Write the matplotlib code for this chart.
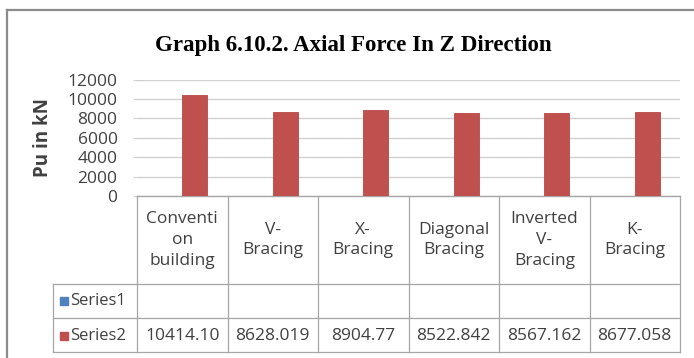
import numpy as np
import matplotlib
matplotlib.use('Agg')
from matplotlib import pyplot as plt
from matplotlib.lines import Line2D

categories = ['Conventi\non\nbuilding', 'V-\nBracing', 'X-\nBracing',
              'Diagonal\nBracing', 'Inverted\nV-\nBracing', 'K-\nBracing']
series1 = [np.nan] * 6
series2 = [10414.10, 8628.019, 8904.77, 8522.842, 8567.162, 8677.058]
series2_text = ['10414.10', '8628.019', '8904.77', '8522.842', '8567.162', '8677.058']
yticks = [0, 2000, 4000, 6000, 8000, 10000, 12000]

blue = '#4F81BD'
red = '#C0504D'
grid_c = '#d0d0d0'
table_c = '#a6a6a6'
text_c = '#404040'
sans = ['Open Sans', 'DejaVu Sans']

W, H = 694, 358
fig = plt.figure(figsize=(W / 100, H / 100), dpi=100)

# plot area in pixels: x 137..680, y 79.5..196
left, right, top, bottom = 137, 680, 79.5, 196
ax = fig.add_axes([left / W, 1 - bottom / H, (right - left) / W, (bottom - top) / H])

x = np.arange(len(categories))
bw = 0.277
ax.bar(x - bw / 2, series1, bw, color=blue)
ax.bar(x + bw / 2, series2, bw, color=red, edgecolor='#b84844', linewidth=0.6, zorder=3)

ax.set_xlim(-0.5, len(categories) - 0.5)
ax.set_ylim(0, 12000)
ax.set_yticks(yticks)
ax.set_yticklabels([str(v) for v in yticks], family=sans, fontsize=12.5, color=text_c)
ax.set_xticks([])
ax.tick_params(axis='y', length=3, color=grid_c, pad=11)
ax.yaxis.grid(True, color=grid_c, linewidth=1.0, zorder=0)
ax.set_axisbelow(True)
for s in ['top', 'right', 'left']:
    ax.spines[s].set_visible(False)
ax.spines['bottom'].set_color(table_c)

# data table under the axis
tr = ax.get_xaxis_transform()
ph = bottom - top
def yfrac(py):
    return (bottom - py) / ph
def xdata(px):
    return -0.5 + (px - left) / ((right - left) / len(categories))

row_y = [196, 284, 318, 352]
lab_left = xdata(53)
xr = len(categories) - 0.5
for i, py in enumerate(row_y):
    x0 = -0.5 if i == 0 else lab_left
    ax.add_line(Line2D([x0, xr], [yfrac(py)] * 2, transform=tr, color=table_c,
                       lw=0.9, clip_on=False))
for k in range(len(categories) + 1):
    ax.add_line(Line2D([k - 0.5] * 2, [yfrac(196), yfrac(352)], transform=tr,
                       color=table_c, lw=0.9, clip_on=False))
ax.add_line(Line2D([lab_left] * 2, [yfrac(284), yfrac(352)], transform=tr,
                   color=table_c, lw=0.9, clip_on=False))

for i, name in enumerate(categories):
    ax.text(i, yfrac(240), name, transform=tr, ha='center', va='center',
            family=sans, fontsize=12.5, color=text_c, linespacing=1.38, clip_on=False)
    ax.text(i, yfrac(336), series2_text[i], transform=tr, ha='center', va='center',
            family=sans, fontsize=12.5, color=text_c, clip_on=False)

for name, c, py in [('Series1', blue, 301), ('Series2', red, 336)]:
    ax.plot([xdata(64)], [yfrac(py)], marker='s', markersize=6, color=c,
            transform=tr, clip_on=False)
    ax.text(xdata(70), yfrac(py), name, transform=tr, ha='left', va='center',
            family=sans, fontsize=12, color=text_c, clip_on=False)

fig.text(353 / W, 1 - 45 / H, 'Graph 6.10.2. Axial Force In Z Direction',
         ha='center', va='center', family='Liberation Serif', fontweight='bold',
         fontsize=16.5, color='#000000')
fig.text(43 / W, 1 - 138 / H, 'Pu in kN', rotation=90, ha='center', va='center',
         family=sans, fontweight='bold', fontsize=13.5, color=text_c)

# chart frame
fig.add_artist(Line2D([7 / W, 1], [1 - 10 / H] * 2, color='#8c8c8c', lw=1.6))
fig.add_artist(Line2D([7 / W] * 2, [0, 1 - 10 / H], color='#8c8c8c', lw=1.6))

fig.savefig('out.png', dpi=100)
